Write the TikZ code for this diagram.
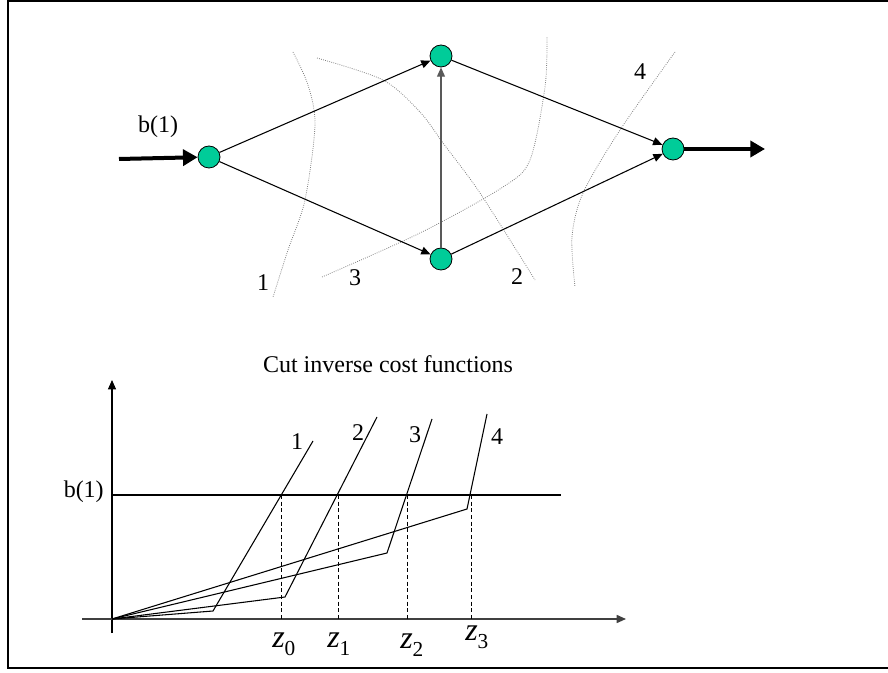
\documentclass[tikz,border=0pt]{standalone}
\usepackage{fontspec}
\setmainfont{Liberation Serif}
\usetikzlibrary{arrows.meta}
\definecolor{nodegreen}{HTML}{00CC99}
\newcommand\myzlab[1]{{\fontsize{24}{24}\selectfont\itshape z}\raisebox{-6pt}{\fontsize{16}{16}\selectfont #1}}
\tikzset{
  vertex/.style={circle,draw=black,line width=0.6pt,fill=nodegreen,minimum size=16.5pt,inner sep=0pt},
  edge/.style={line width=0.8pt,-{Triangle[length=7pt,width=6pt]}},
  bigarrow/.style={line width=3pt,-{Triangle[length=11pt,width=12pt]}},
  cutline/.style={gray,line width=0.6pt,densely dotted},
  lab/.style={font=\fontsize{18}{18}\selectfont,inner sep=0pt},
  curve/.style={line width=0.8pt},
  axis/.style={line width=0.8pt,-{Triangle[length=7pt,width=6pt]}},
  guide/.style={line width=0.7pt,dash pattern=on 3pt off 2pt}
}
\begin{document}
\begin{tikzpicture}[x=0.75pt,y=-0.75pt]
\useasboundingbox (0,0) rectangle (888,673);
% frame (open on the right, as cropped in the reference)
\draw[line width=1.6pt] (930,1) -- (8,1) -- (8,668) -- (930,668);

% cut curves
\draw[cutline] plot[smooth] coordinates {(293,52) (308,85) (315,125) (305,200) (288,250) (273,297)};
\draw[cutline] plot[smooth] coordinates {(317,58) (383,80) (420,112) (443,143) (480,193) (535,280)};
\draw[cutline] plot[smooth] coordinates {(322,277) (420,233) (503,187) (530,160) (545,87) (547,37)};
\draw[cutline] plot[smooth] coordinates {(675,52) (620,130) (583,193) (572,237) (575,287)};

% nodes
\node[vertex] (A) at (209,157) {};
\node[vertex] (B) at (441,56) {};
\node[vertex] (C) at (441,259) {};
\node[vertex] (D) at (673,149) {};
\coordinate (in) at (119,159);
\coordinate (out) at (765,149);

\draw[bigarrow] (in) -- (A);
\draw[bigarrow] (D) -- (out);
\draw[edge] (A) -- (B);
\draw[edge] (A) -- (C);
\draw[edge,draw=black!65] (C) -- (B);
\draw[edge] (B) -- (D);
\draw[edge] (C) -- (D);

% top labels
\node[lab] (bl) at (158,127) {b(1)};
\node[lab] (c1) at (263,283) {1};
\node[lab] (c3) at (355,278) {3};
\node[lab] (c2) at (517,277) {2};
\node[lab] (c4) at (640,72) {4};

% bottom plot
\node[lab,anchor=base] (title) at (388,373) {Cut inverse cost functions};
\coordinate (O) at (112,619);
\coordinate (ytop) at (112,380);
\coordinate (ybot) at (112,633);
\coordinate (xl) at (82,619);
\coordinate (xr) at (626,619);
\draw[axis] (ybot) -- (ytop);
\draw[axis,draw=black!75,line width=1.2pt] (xl) -- (xr);
\coordinate (bl0) at (112,495);
\coordinate (bl1) at (561,495);
\draw[line width=0.8pt] (bl0) -- (bl1);
\node[lab,anchor=base east] (blab) at (104,497) {b(1)};

\coordinate (k1) at (213,611); \coordinate (e1) at (313,441);
\coordinate (k2) at (285,597); \coordinate (e2) at (377,417);
\coordinate (k3) at (387,553); \coordinate (e3) at (432,419);
\coordinate (k4) at (467,509); \coordinate (e4) at (487,414);
\draw[curve] (O) -- (k1) -- (e1);
\draw[curve] (O) -- (k2) -- (e2);
\draw[curve] (O) -- (k3) -- (e3);
\draw[curve] (O) -- (k4) -- (e4);
\node[lab] (n1) at (297,442) {1};
\node[lab] (n2) at (358,433) {2};
\node[lab] (n3) at (415,435) {3};
\node[lab] (n4) at (497,437) {4};

\coordinate (t0) at (281,495); \coordinate (b0) at (281,619);
\coordinate (t1) at (338,495); \coordinate (b1) at (338,619);
\coordinate (t2) at (407,495); \coordinate (b2) at (407,619);
\coordinate (t3) at (471,495); \coordinate (b3) at (471,619);
\draw[guide] (t0) -- (b0);
\draw[guide] (t1) -- (b1);
\draw[guide] (t2) -- (b2);
\draw[guide] (t3) -- (b3);

\node[inner sep=0pt,anchor=base west] (z0) at (272,647) {\myzlab{0}};
\node[inner sep=0pt,anchor=base west] (z1) at (327,647) {\myzlab{1}};
\node[inner sep=0pt,anchor=base west] (z2) at (400,648) {\myzlab{2}};
\node[inner sep=0pt,anchor=base west] (z3) at (465,640) {\myzlab{3}};
\end{tikzpicture}
\end{document}
